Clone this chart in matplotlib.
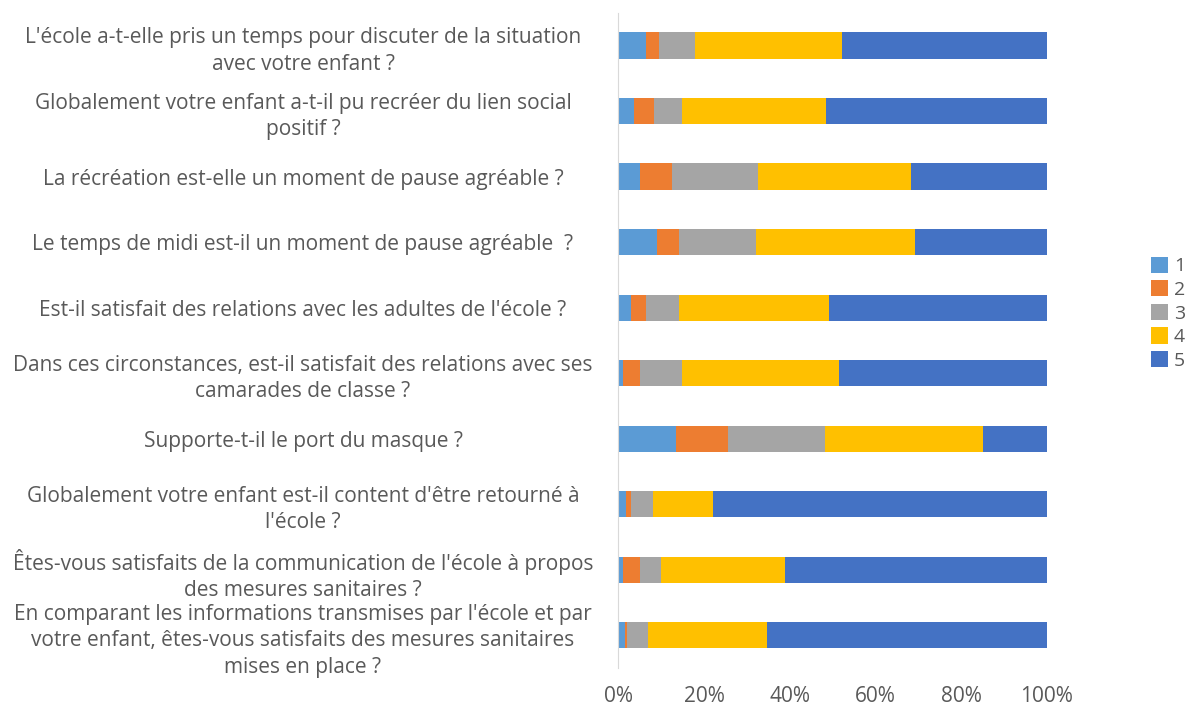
import numpy as np
import matplotlib
matplotlib.use('Agg')
from matplotlib import pyplot as plt

questions = [
    "L'école a-t-elle pris un temps pour discuter de la situation\navec votre enfant ?",
    "Globalement votre enfant a-t-il pu recréer du lien social\npositif ?",
    "La récréation est-elle un moment de pause agréable ?",
    "Le temps de midi est-il un moment de pause agréable  ?",
    "Est-il satisfait des relations avec les adultes de l'école ?",
    "Dans ces circonstances, est-il satisfait des relations avec ses\ncamarades de classe ?",
    "Supporte-t-il le port du masque ?",
    "Globalement votre enfant est-il content d'être retourné à\nl'école ?",
    "Êtes-vous satisfaits de la communication de l'école à propos\ndes mesures sanitaires ?",
    "En comparant les informations transmises par l'école et par\nvotre enfant, êtes-vous satisfaits des mesures sanitaires\nmises en place ?",
]
score_labels = ['1', '2', '3', '4', '5']

# percentages per score, one value per question (top to bottom)
score_1 = [6.5, 3.6, 5.0, 9.0, 2.9, 1.2, 13.5, 1.7, 1.2, 1.6]
score_2 = [3.1, 4.7, 7.6, 5.2, 3.6, 3.8, 12.2, 1.3, 3.8, 0.5]
score_3 = [8.2, 6.6, 19.9, 17.9, 7.6, 9.9, 22.5, 5.2, 4.9, 4.9]
score_4 = [34.4, 33.5, 35.9, 37.2, 35.1, 36.6, 37.0, 13.8, 29.0, 27.7]
score_5 = [47.8, 51.6, 31.6, 30.7, 50.8, 48.5, 14.8, 78.0, 61.1, 65.3]

colors = ['#5B9BD5', '#ED7D31', '#A5A5A5', '#FFC000', '#4472C4']
text_color = '#595959'

plt.rcParams['font.family'] = ['Open Sans', 'DejaVu Sans']

series = np.array([score_1, score_2, score_3, score_4, score_5])
y = np.arange(len(questions))

fig = plt.figure(figsize=(11.89, 7.07), dpi=100)
ax = fig.add_axes([0.52, 0.055, 0.3605, 0.927])

left = np.zeros(len(questions))
for vals, col, lab in zip(series, colors, score_labels):
    ax.barh(y, vals, left=left, height=0.4, color=col, label=lab)
    left += vals

ax.set_xlim(0, 100)
ax.set_ylim(len(questions) - 0.5, -0.5)
ax.set_xticks([0, 20, 40, 60, 80, 100])
ax.set_xticklabels(['0%', '20%', '40%', '60%', '80%', '100%'])
ax.set_yticks(y)
ax.set_yticklabels(questions)
for t in ax.get_yticklabels():
    t.set_horizontalalignment('center')
    t.set_multialignment('center')
    t.set_linespacing(1.35)
ax.tick_params(axis='y', length=0, pad=227, labelsize=15, labelcolor=text_color)
ax.tick_params(axis='x', length=0, pad=13, labelsize=15, labelcolor=text_color)

for side in ['top', 'right', 'bottom']:
    ax.spines[side].set_visible(False)
ax.spines['left'].set_color('#D9D9D9')

leg = fig.legend(loc='center left', bbox_to_anchor=(0.953, 0.557), frameon=False,
                 handlelength=0.9, handleheight=0.9, handletextpad=0.3,
                 labelspacing=0.25, fontsize=14, labelcolor=text_color)

fig.savefig('out.png', dpi=100)
